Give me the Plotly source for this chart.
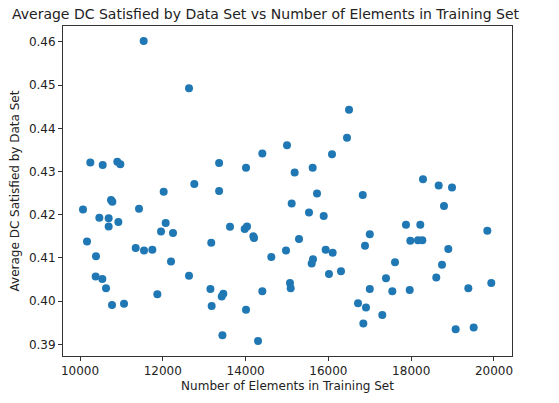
import plotly.graph_objects as go

n_elements = [11538, 12633, 10249, 10548, 10901, 10974, 13360, 12761, 12021, 13360,
              10749, 10781, 10072, 11425, 10467, 10692, 10926, 10692, 12069, 11957,
              12246, 13170, 10169, 11345, 11546, 11747, 10386, 12198, 10378, 10539,
              12633, 10628, 13150, 11868, 10773, 11063, 13180, 13440, 15113, 15725,
              16830, 15531, 15886, 13623, 14034, 13978, 14187, 14203, 17000, 15290,
              16884, 14976, 14621, 15934, 16103, 15628, 15596, 16014, 16304, 15072,
              15089, 13461, 13423, 14404, 14010, 14300, 16715, 16908, 16844, 17000,
              16498, 16449, 15000, 14404, 16087, 14010, 15185, 15620, 18285, 18664,
              18986, 18792, 17874, 18220, 17979, 18164, 18269, 19839, 18896, 17609,
              18744, 17391, 18606, 17544, 17964, 19380, 19935, 17302, 19074, 19509]

avg_dc = [0.4602, 0.4493, 0.4321, 0.4315, 0.4323, 0.4317, 0.4320, 0.4271, 0.4253, 0.4255,
          0.4234, 0.4230, 0.4212, 0.4214, 0.4193, 0.4192, 0.4183, 0.4173, 0.4181, 0.4161,
          0.4158, 0.4135, 0.4138, 0.4123, 0.4117, 0.4119, 0.4104, 0.4092, 0.4057, 0.4051,
          0.4059, 0.4030, 0.4028, 0.4016, 0.3991, 0.3994, 0.3989, 0.3921, 0.4226, 0.4249,
          0.4246, 0.4205, 0.4197, 0.4172, 0.4173, 0.4167, 0.4150, 0.4146, 0.4155, 0.4144,
          0.4128, 0.4117, 0.4102, 0.4119, 0.4112, 0.4097, 0.4087, 0.4063, 0.4069, 0.4042,
          0.4030, 0.4017, 0.4011, 0.4023, 0.3980, 0.3908, 0.3995, 0.3985, 0.3948, 0.4028,
          0.4443, 0.4378, 0.4361, 0.4342, 0.4340, 0.4309, 0.4298, 0.4309, 0.4282, 0.4268,
          0.4263, 0.4220, 0.4177, 0.4177, 0.4140, 0.4141, 0.4141, 0.4163, 0.4121, 0.4090,
          0.4084, 0.4053, 0.4055, 0.4023, 0.4026, 0.4030, 0.4042, 0.3968, 0.3935, 0.3939]

x_ticks = [10000, 12000, 14000, 16000, 18000, 20000]
y_ticks = [0.39, 0.40, 0.41, 0.42, 0.43, 0.44, 0.45, 0.46]

fig = go.Figure(go.Scatter(
    x=n_elements, y=avg_dc, mode="markers",
    marker=dict(color="#1f77b4", size=8, line=dict(width=0)),
))

axis_common = dict(
    showgrid=False, zeroline=False, showline=True, mirror=True,
    linecolor="#333333", linewidth=1, ticks="outside", ticklen=4,
    tickcolor="#333333", tickfont=dict(size=12, color="#222222"),
)

fig.update_layout(
    width=559, height=403,
    margin=dict(l=63, r=47, t=26, b=43),
    paper_bgcolor="white", plot_bgcolor="white",
    font=dict(family="DejaVu Sans", color="#222222"),
    showlegend=False,
    title=dict(text="Average DC Satisfied by Data Set vs Number of Elements in Training Set",
               x=0.475, xanchor="center", xref="container",
               y=0.965, yanchor="middle", yref="container",
               font=dict(size=14, color="#222222")),
    xaxis=dict(range=[9589, 20435], tickvals=x_ticks,
               ticktext=[str(v) for v in x_ticks],
               title=dict(text="Number of Elements in Training Set", font=dict(size=12), standoff=4),
               **axis_common),
    yaxis=dict(range=[0.3873, 0.4637], tickvals=y_ticks,
               ticktext=[f"{v:.2f}" for v in y_ticks],
               title=dict(text="Average DC Satisfied by Data Set", font=dict(size=12), standoff=6),
               **axis_common),
)

fig.write_html("out.html")
